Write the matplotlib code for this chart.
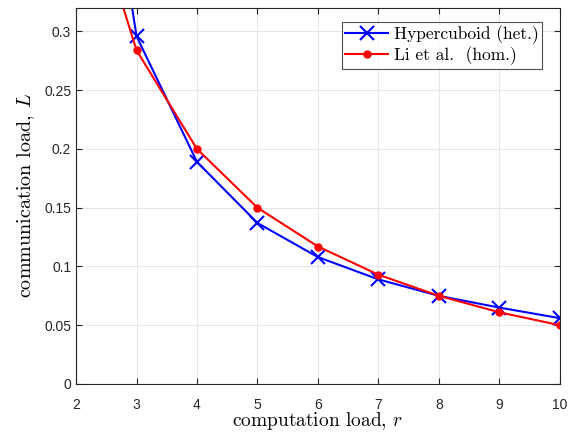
import matplotlib
matplotlib.use('Agg')
import matplotlib.pyplot as plt

# Data
r = [2, 3, 4, 5, 6, 7, 8, 9, 10]
hyper_het = [0.63, 0.296, 0.189, 0.137, 0.108, 0.089, 0.075, 0.065, 0.056]
li_hom = [0.45, 0.284, 0.200, 0.150, 0.117, 0.093, 0.075, 0.061, 0.050]

x_ticks = [2, 3, 4, 5, 6, 7, 8, 9, 10]
y_ticks = [0, 0.05, 0.1, 0.15, 0.2, 0.25, 0.3]
y_tick_labels = ['0', '0.05', '0.1', '0.15', '0.2', '0.25', '0.3']

plt.rcParams['mathtext.fontset'] = 'cm'
plt.rcParams['font.family'] = ['Liberation Sans', 'DejaVu Sans']

fig = plt.figure(figsize=(5.69, 4.36), dpi=100)
ax = fig.add_axes([0.1336, 0.1193, 0.984 - 0.1336, 0.9817 - 0.1193])

ax.plot(r, hyper_het, color='#0000ff', linewidth=1.5, marker='x', markersize=10,
        markeredgewidth=1.5, label='Hypercuboid (het.)')
ax.plot(r, li_hom, color='#ff0000', linewidth=1.5, marker='o', markersize=5,
        label='Li et al.  (hom.)')

ax.set_xlim(2, 10)
ax.set_ylim(0, 0.32)
ax.set_xticks(x_ticks)
ax.set_yticks(y_ticks)
ax.set_yticklabels(y_tick_labels)
ax.tick_params(direction='in', top=True, right=True, labelsize=10, length=4,
               labelcolor='#262626', color='#262626')
ax.tick_params(axis='x', pad=10)
ax.grid(True, color='#e6e6e6', linewidth=0.8)
ax.set_axisbelow(True)
for s in ax.spines.values():
    s.set_color('#262626')
    s.set_linewidth(0.8)

ax.set_xlabel(r'computation load, $r$', fontsize=14, family='cmr10', labelpad=-1)
ax.set_ylabel(r'communication load, $L$', fontsize=14.5, family='cmr10', labelpad=5)

leg = ax.legend(loc='upper right', bbox_to_anchor=(0.963, 0.963), handlelength=2.5,
                frameon=True, prop={'family': 'cmr10', 'size': 12.5},
                fancybox=False, edgecolor='#262626', borderpad=0.2,
                labelspacing=0.15, handletextpad=0.3, borderaxespad=0)
leg.get_frame().set_linewidth(0.8)

fig.savefig('out.png', dpi=100)
